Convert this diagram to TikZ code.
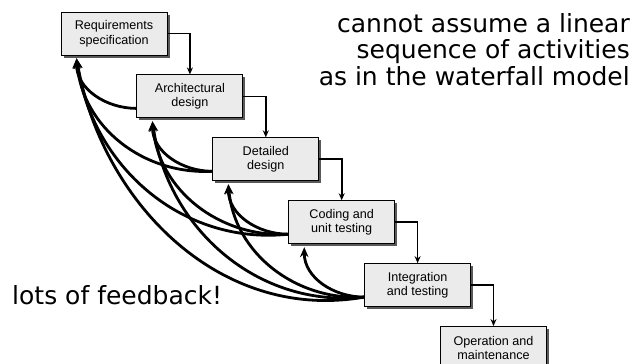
\documentclass[tikz,border=0pt]{standalone}
\usepackage{fontspec}
\setmainfont{Liberation Sans}
\newfontfamily\notefont{DejaVu Sans}
\usetikzlibrary{arrows.meta, positioning, shadows}

\begin{document}
\begin{tikzpicture}[
    x=1pt, y=1pt,
    node distance=19pt and -31pt,
    phase/.style={rectangle, draw=black, fill=gray!16, line width=0.9pt,
                  minimum width=106pt, minimum height=43pt, inner sep=0pt,
                  align=center, font=\fontsize{12.6}{14.5}\selectfont,
                  general shadow={fill=black!65, shadow xshift=2.5pt, shadow yshift=-2.5pt}},
    flow/.style={-{Stealth[length=7pt, width=6pt]}, line width=1.7pt},
    feedback/.style={-{Stealth[length=10pt, width=8.5pt]}, line width=2.8pt},
    note/.style={font=\notefont\fontsize{25}{26.5}\selectfont, inner sep=0pt}
]
\useasboundingbox (0,0) rectangle (638,-364);

\node[phase] (req) at (114,-33.5) {Requirements\\specification};
\node[phase, below right=of req] (arc) {Architectural\\design};
\node[phase, below right=of arc] (des) {Detailed\\design};
\node[phase, below right=of des] (cod) {Coding and\\unit testing};
\node[phase, below right=of cod] (itg) {Integration\\and testing};
\node[phase, below right=of itg] (opr) {Operation and\\maintenance};

\foreach \from/\to in {req/arc, arc/des, des/cod, cod/itg, itg/opr}
    \draw[flow] (\from.east) -| (\to.north);

% feedback paths back to every earlier phase
\foreach \from/\to/\o/\i in {arc/req/180/-90,
    des/arc/180/-90, des/req/183/-85,
    cod/des/180/-90, cod/arc/183/-85, cod/req/186/-82,
    itg/cod/180/-90, itg/des/183/-85, itg/arc/186/-82, itg/req/190/-80}
    \draw[feedback] ([yshift=-12pt]\from.west) to[out=\o, in=\i]
        ([xshift=16pt, yshift=-3pt]\to.south west);

\node[note, anchor=north east, align=right] (lin) at (630,-13)
    {cannot assume a linear\\sequence of activities\\as in the waterfall model};
\node[note, anchor=base west] (fb) at (12,-304) {lots of feedback!};
\end{tikzpicture}
\end{document}
